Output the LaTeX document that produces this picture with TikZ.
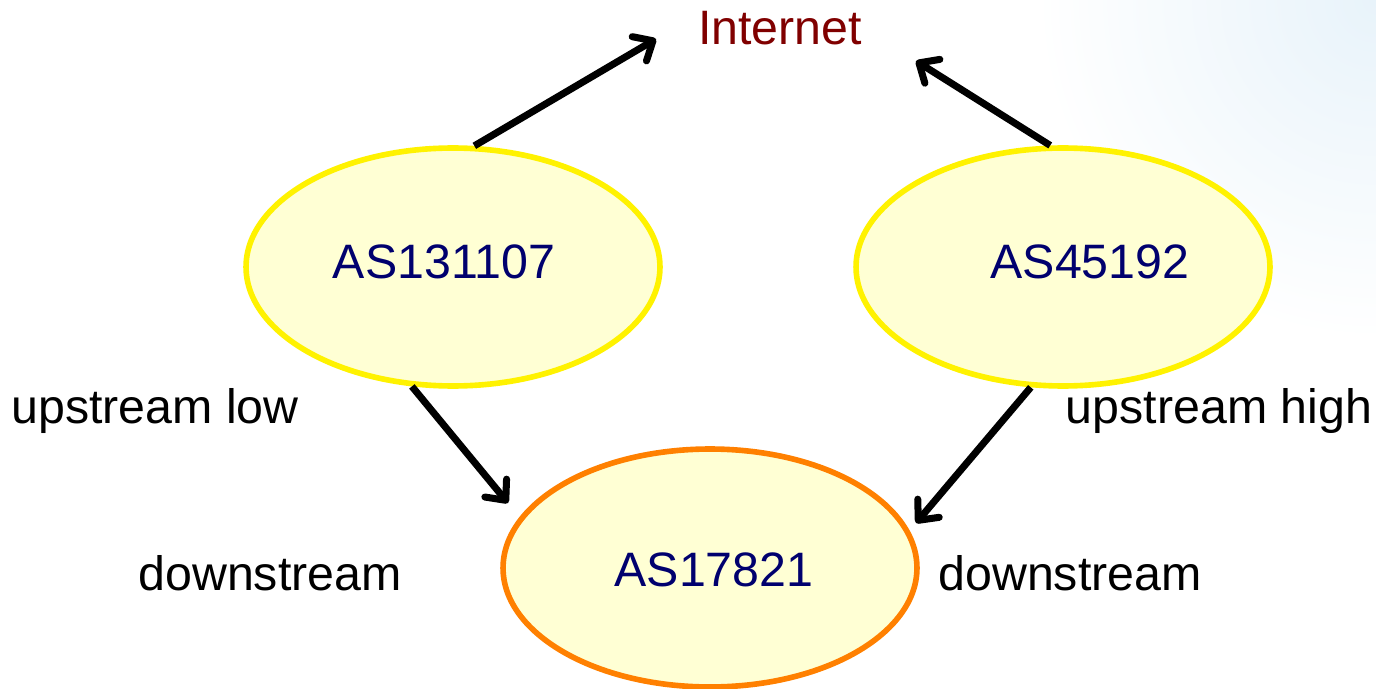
\documentclass[tikz,border=0pt]{standalone}
\usepackage{fontspec}
\setmainfont{Liberation Sans}
\usetikzlibrary{shapes.geometric,arrows.meta}
\definecolor{asfill}{RGB}{255,255,212}
\definecolor{asname}{RGB}{0,0,110}
\definecolor{netred}{RGB}{128,0,0}
\definecolor{cornerblue}{RGB}{232,243,250}
\tikzset{/AS/node/.style={
	shape=ellipse, fill=asfill, line width=3.2pt,
	minimum width=8.28cm, minimum height=4.76cm, inner sep=0
}}
\tikzset{/AS/name/.style={
	text=asname, font=\fontsize{27.5}{31}\selectfont
}}
\tikzset{/AS/rel/.style={
	font=\fontsize{27.5}{31}\selectfont
}}
\tikzset{/AS/link/.style={
	line width=4pt, -{Straight Barb[length=9pt,width=16pt,round]}
}}

\begin{document}
\begin{tikzpicture}[x=0.02cm, y=-0.02cm]
				\useasboundingbox (0,0) rectangle (1376,689);
				\begin{scope}
					\clip (0,0) rectangle (1376,689);
					\shade[inner color=cornerblue, outer color=white] (1376,0) circle (340);
				\end{scope}
				\path (780,28) node[/AS/rel, text=netred] (inet) {Internet};
				\path (453,267) node[/AS/node, draw=yellow] (as1) {};
				\path (as1.center) ++ (-9,-5) node[/AS/name] (as1name) {AS131107};
				\path (1063,267) node[/AS/node, draw=yellow] (as2) {};
				\path (as2.center) ++ (27,-5) node[/AS/name] (as2name) {AS45192};
				\path (710,568) node[/AS/node, draw=orange] (as3) {};
				\path (as3.center) ++ (4,2) node[/AS/name] (as3name) {AS17821};
				\path (155,411) node[/AS/rel] (uplow) {upstream low};
				\path (1219,411) node[/AS/rel] (uphigh) {upstream high};
				\path (270,573) node[/AS/rel] (downl) {downstream};
				\path (1070,573) node[/AS/rel] (downr) {downstream};
				% free ends of the arrows
				\coordinate (inetl) at (656,39);
				\coordinate (inetr) at (916,61);
				\coordinate (as3l) at (508,503);
				\coordinate (as3r) at (916,523);
				\draw[/AS/link] (as1.80) -- (inetl);
				\draw[/AS/link] (as2.96) -- (inetr);
				\draw[/AS/link] (as1.251) -- (as3l);
				\draw[/AS/link] (as2.255) -- (as3r);
			\end{tikzpicture}
\end{document}
